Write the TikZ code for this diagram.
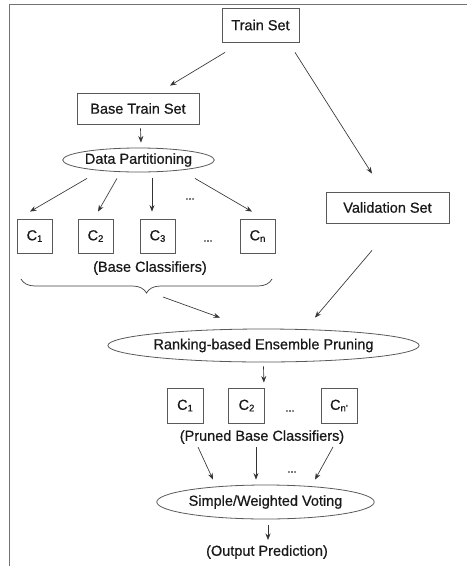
\documentclass[tikz,border=0pt]{standalone}
\usepackage{fontspec}
\setmainfont{Liberation Sans}[FakeBold=0.7]
\usetikzlibrary{arrows.meta,calc,shapes.geometric,decorations.pathreplacing}
\newcommand{\sbx}[1]{\raisebox{-1.5pt}{\fontsize{9.5}{10}\selectfont #1}}
\begin{document}
\begin{tikzpicture}[x=1pt,y=-1pt,
  txt/.style={font=\fontsize{14.5}{17}\selectfont, text=black!90, inner sep=0pt},
  box/.style={txt, draw=black!65, line width=0.8pt, rectangle},
  oval/.style={txt, draw=black!65, line width=0.8pt, ellipse},
  cbox/.style={box, minimum width=35pt, minimum height=34pt},
  arr/.style={draw=black!80, line width=0.65pt, -{Stealth[length=6.5pt,width=5pt]}},
  dots/.style={txt, font=\fontsize{11}{12}\selectfont}
]
\useasboundingbox (0,0) rectangle (467,566);
\draw[black!55, line width=1.5pt] (467,4.5) -- (9.5,4.5) -- (9.5,566);

% nodes
\node[box, minimum width=77pt, minimum height=34pt] (ts) at (260.5,25) {Train Set};
\node[box, minimum width=122pt, minimum height=31pt] (bts) at (138,108.5) {Base Train Set};
\node[box, minimum width=123pt, minimum height=31pt] (vs) at (387.5,207.5) {Validation Set};
\node[oval, minimum width=151pt, minimum height=24pt] (dp) at (138.5,160) {Data Partitioning};

\node[cbox] (c1) at (34.5,236) {C\sbx{1}};
\node[cbox] (c2) at (95.5,236) {C\sbx{2}};
\node[cbox] (c3) at (157.5,236) {C\sbx{3}};
\node[cbox] (cn) at (257.5,236) {C\sbx{n}};
\node[dots] (d1) at (190,199) {...};
\node[dots] (d2) at (208,241) {...};
\node[txt] (bcl) at (150,268) {(Base Classifiers)};

\coordinate (bl) at (21,279);
\coordinate (br) at (272,279);
\draw[black!75, line width=0.7pt, decorate, decoration={brace, mirror, amplitude=14pt}] (bl) -- (br);
\coordinate (bt) at (163,297);

\node[oval, minimum width=269pt, minimum height=33pt] (rep) at (263.5,345.5) {Ranking-based Ensemble Pruning};

\node[box, minimum width=36pt, minimum height=35pt] (p1) at (185,405.5) {C\sbx{1}};
\node[box, minimum width=36pt, minimum height=35pt] (p2) at (246.5,405.5) {C\sbx{2}};
\node[box, minimum width=36pt, minimum height=35pt] (pn) at (339,405.5) {C\sbx{n'}};
\node[dots] (d3) at (290,411) {...};
\node[txt] (pbc) at (262,437) {(Pruned Base Classifiers)};
\node[dots] (d4) at (292,472) {...};

\node[oval, minimum width=205pt, minimum height=34pt] (sv) at (265.5,502) {Simple/Weighted Voting};
\node[txt] (out) at (267,552) {(Output Prediction)};

% connectors
\draw[arr] ($(ts.south)+(-35.5,10)$) -- ($(bts.north)+(32,-7)$);
\draw[arr] ($(ts.south)+(34.5,10)$) -- ($(vs.north)+(-15.5,-18)$);
\draw[arr] ($(bts.south)+(2.5,4)$) -- ($(dp.north)+(2.5,-5)$);
\draw[arr] ($(dp.south)+(-51.5,6)$) -- ($(c1.north)+(-4.5,-7)$);
\draw[arr] ($(dp.south)+(-21.5,6)$) -- ($(c2.north)+(2.5,-7)$);
\draw[arr] ($(dp.south)+(13.5,6)$) -- ($(c3.north)+(-5.5,-7)$);
\draw[arr] ($(dp.south)+(56.5,6)$) -- ($(cn.north)+(-5.5,-7)$);
\draw[arr] (bt) -- ($(rep.north)+(-43.5,-11)$);
\draw[arr] ($(vs.south)+(-15.5,27)$) -- ($(rep.north)+(51.5,-11)$);
\draw[arr] ($(rep.south)+(0,4)$) -- ($(p2.north east)+(-1,-5)$);
\draw[arr] ($(pbc.center)+(-64,10)$) -- ($(sv.north)+(-52.5,-5)$);
\draw[arr] ($(pbc.center)+(-6,10)$) -- ($(sv.north)+(-9.5,-5)$);
\draw[arr] ($(pbc.center)+(71,10)$) -- ($(sv.north)+(49.5,-5)$);
\draw[arr] ($(sv.south)+(2.5,6)$) -- ($(out.center)+(1,-12)$);
\end{tikzpicture}
\end{document}
